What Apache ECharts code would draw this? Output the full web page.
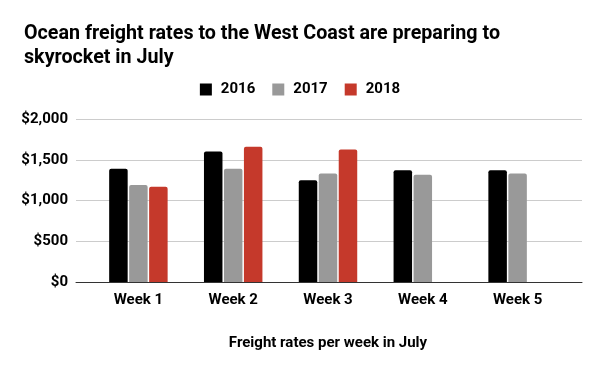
<!DOCTYPE html>
<html><head><meta charset="utf-8">
<script src="https://cdn.jsdelivr.net/npm/echarts@6/dist/echarts.min.js"></script>
<style>html,body{margin:0;padding:0;background:#fff}#c{width:600px;height:371px}</style>
</head><body><div id="c"></div>
<script>
const categories = ['Week 1','Week 2','Week 3','Week 4','Week 5'];
const s2016 = [1390, 1600, 1250, 1370, 1370];
const s2017 = [1190, 1390, 1330, 1315, 1330];
const s2018 = [1170, 1660, 1625, null, null];
const seriesNames = ['2016','2017','2018'];
const colors = ['#000000','#999999','#c5392b'];
const yTicks = {min:0, max:2000, interval:500};

const font = 'Roboto';
const chart = echarts.init(document.getElementById('c'));
const bar = (name, data, color) => ({
  name, type:'bar', data, xAxisIndex:1, yAxisIndex:1,
  barWidth:18.5, barGap:'8%',
  itemStyle:{color, borderRadius:[2,2,0,0]}
});
chart.setOption({
  animation:false,
  color: colors,
  title:{
    text:'Ocean freight rates to the West Coast are preparing to\nskyrocket in July',
    left:19, top:17,
    textStyle:{fontFamily:font, fontSize:19.7, fontWeight:'bold', color:'#000', lineHeight:24}
  },
  legend:{
    data: seriesNames, left:'center', top:77,
    itemWidth:12, itemHeight:12, itemGap:17, icon:'rect',
    textStyle:{fontFamily:font, fontSize:15, fontWeight:'bold', color:'#000', padding:[0,0,0,4]}
  },
  grid:[
    {left:76, right:18, top:119, bottom:89},
    {left:91, right:35, top:119, bottom:89}
  ],
  xAxis:[
    {type:'category', gridIndex:0, data:categories, axisLine:{show:true, lineStyle:{color:'#333', width:1}},
     axisTick:{show:false}, axisLabel:{show:false}},
    {type:'category', gridIndex:1, data:categories, axisLine:{show:false}, axisTick:{show:false},
     axisLabel:{fontFamily:font, fontSize:15, fontWeight:'bold', color:'#000', margin:11},
     name:'Freight rates per week in July', nameLocation:'middle', nameGap:54,
     nameTextStyle:{fontFamily:font, fontSize:15, fontWeight:'bold', color:'#000'}}
  ],
  yAxis:[
    {type:'value', gridIndex:0, min:yTicks.min, max:yTicks.max, interval:yTicks.interval,
     axisLine:{show:false}, axisTick:{show:false},
     splitLine:{lineStyle:{color:'#cccccc', width:1}},
     axisLabel:{fontFamily:font, fontSize:15, fontWeight:'bold', color:'#000', margin:8,
       formatter:v => '$' + v.toLocaleString('en-US')}},
    {type:'value', gridIndex:1, min:yTicks.min, max:yTicks.max, interval:yTicks.interval,
     show:false, splitLine:{show:false}}
  ],
  series:[
    bar(seriesNames[0], s2016, colors[0]),
    bar(seriesNames[1], s2017, colors[1]),
    bar(seriesNames[2], s2018, colors[2])
  ]
});
</script></body></html>
